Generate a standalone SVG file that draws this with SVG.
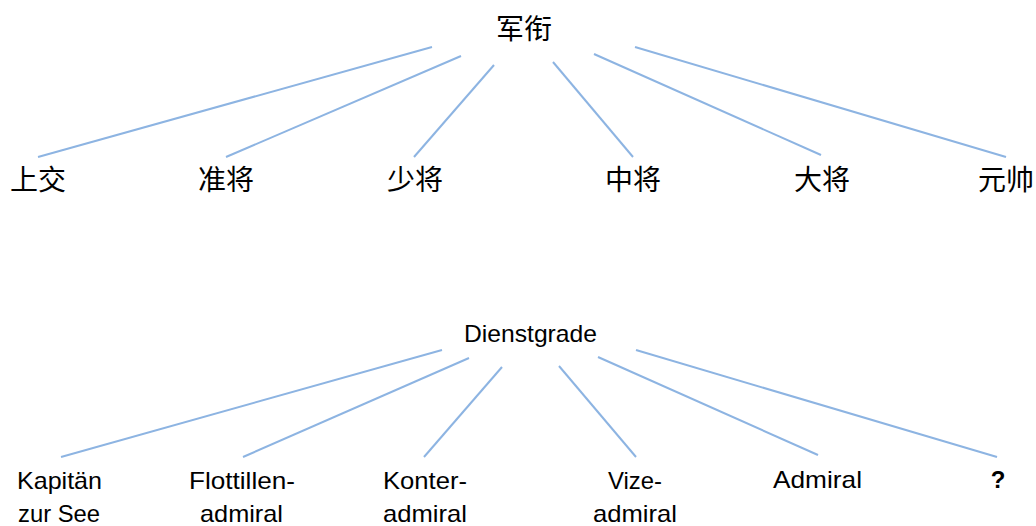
<svg xmlns="http://www.w3.org/2000/svg" width="1036" height="526" viewBox="0 0 1036 526">
<style>
.cjk{font-family:"Noto Sans CJK SC","Noto Sans",sans-serif;font-size:28px;fill:#000;text-anchor:middle}
.de{font-family:"Liberation Sans","Noto Sans",sans-serif;font-size:24px;fill:#000;text-anchor:middle}
.b{font-weight:bold}
.conn line{stroke:#8DB4E2;stroke-width:2;fill:none}
</style>
<rect width="1036" height="526" fill="#fff"/>
<g id="connectors" class="conn">
<line x1="432" y1="47" x2="38" y2="157"/>
<line x1="461" y1="56" x2="226" y2="157"/>
<line x1="494" y1="65" x2="414" y2="157"/>
<line x1="553" y1="62" x2="633" y2="157"/>
<line x1="594" y1="54" x2="821" y2="155"/>
<line x1="635" y1="47" x2="1006" y2="157"/>
<line x1="442" y1="350" x2="61" y2="457"/>
<line x1="469" y1="358" x2="243" y2="457"/>
<line x1="502" y1="367" x2="424" y2="457"/>
<line x1="559" y1="366" x2="636" y2="457"/>
<line x1="598" y1="357" x2="818" y2="455"/>
<line x1="636" y1="350" x2="997" y2="457"/>
</g>
<g id="n-junxian"><text class="cjk" x="524" y="39">军衔</text></g>
<g id="n-shangjiao"><text class="cjk" x="38" y="190">上交</text></g>
<g id="n-zhunjiang"><text class="cjk" x="226" y="190">准将</text></g>
<g id="n-shaojiang"><text class="cjk" x="415" y="190">少将</text></g>
<g id="n-zhongjiang"><text class="cjk" x="633" y="190">中将</text></g>
<g id="n-dajiang"><text class="cjk" x="822" y="190">大将</text></g>
<g id="n-yuanshuai"><text class="cjk" x="1006" y="190">元帅</text></g>
<g id="n-dienstgrade"><text class="de" x="530.5" y="342" textLength="133" lengthAdjust="spacingAndGlyphs">Dienstgrade</text></g>
<g id="n-kapitaen"><text class="de" x="59.5" y="489" textLength="85" lengthAdjust="spacingAndGlyphs">Kapitän</text><text class="de" x="59" y="522" textLength="82" lengthAdjust="spacingAndGlyphs">zur See</text></g>
<g id="n-flottillenadmiral"><text class="de" x="242" y="489" textLength="106" lengthAdjust="spacingAndGlyphs">Flottillen-</text><text class="de" x="241.5" y="522" textLength="83" lengthAdjust="spacingAndGlyphs">admiral</text></g>
<g id="n-konteradmiral"><text class="de" x="425" y="489" textLength="84" lengthAdjust="spacingAndGlyphs">Konter-</text><text class="de" x="425" y="522" textLength="84" lengthAdjust="spacingAndGlyphs">admiral</text></g>
<g id="n-vizeadmiral"><text class="de" x="635" y="489" textLength="54" lengthAdjust="spacingAndGlyphs">Vize-</text><text class="de" x="635" y="522" textLength="84" lengthAdjust="spacingAndGlyphs">admiral</text></g>
<g id="n-admiral"><text class="de" x="817.5" y="488" textLength="89" lengthAdjust="spacingAndGlyphs">Admiral</text></g>
<g id="n-unknown"><text class="de b" x="998" y="488">?</text></g>
</svg>
